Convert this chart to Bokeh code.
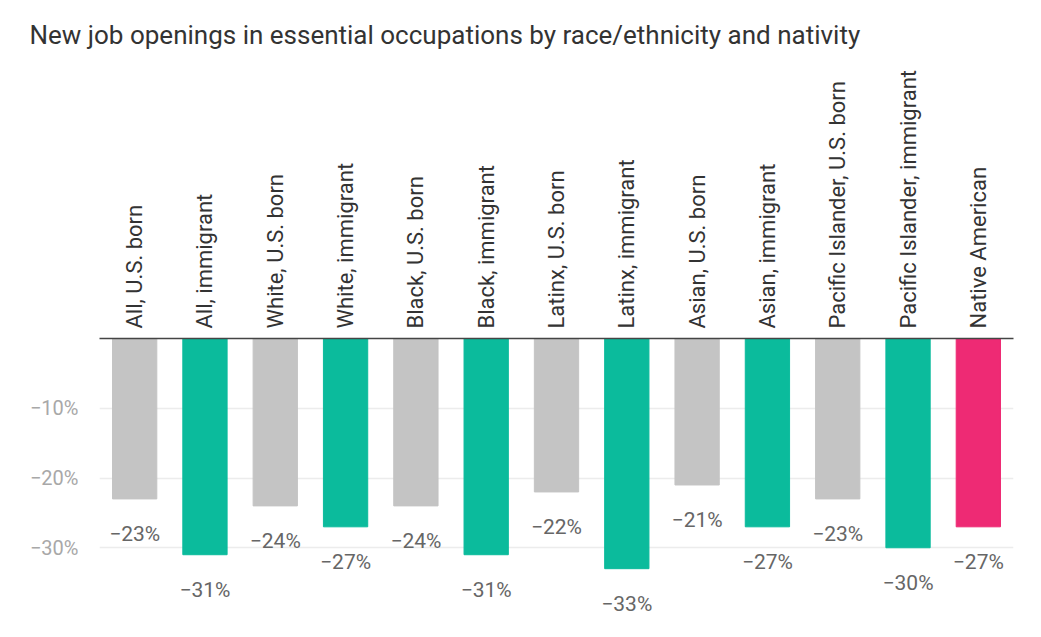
from bokeh.plotting import figure
from bokeh.models import Range1d, FixedTicker, ColumnDataSource, LinearAxis, CategoricalAxis, Title
from bokeh.embed import file_html
from bokeh.resources import INLINE
from bokeh.core.properties import value

categories = ["All, U.S. born", "All, immigrant", "White, U.S. born", "White, immigrant",
              "Black, U.S. born", "Black, immigrant", "Latinx, U.S. born", "Latinx, immigrant",
              "Asian, U.S. born", "Asian, immigrant", "Pacific Islander, U.S. born",
              "Pacific Islander, immigrant", "Native American"]
values = [-23, -31, -24, -27, -24, -31, -22, -33, -21, -27, -23, -30, -27]
groups = ["us", "imm", "us", "imm", "us", "imm", "us", "imm", "us", "imm", "us", "imm", "native"]
y_ticks = [-10, -20, -30]
title_text = "New job openings in essential occupations by race/ethnicity and nativity"

palette = {"us": "#c4c4c4", "imm": "#0bbb9c", "native": "#ee2a74"}
FONT = "Roboto"

src = ColumnDataSource(dict(
    cat=categories,
    val=values,
    color=[palette[g] for g in groups],
    label=["\u2212%d%%" % abs(v) for v in values],
))

p = figure(width=1025, height=621, x_range=categories, y_range=Range1d(-40, 0),
           output_backend="svg", toolbar_location=None, x_axis_location=None,
           y_axis_location=None,
           min_border_left=99, min_border_right=12, min_border_top=337, min_border_bottom=4)
p.outline_line_color = None
p.background_fill_color = "white"
p.border_fill_color = "white"

p.title = Title(text=title_text, text_font=FONT, text_font_size="26px",
                text_font_style="normal", text_color="#333333",
                align="left", offset=-70, standoff=34)

p.vbar(x="cat", top=0, bottom="val", width=0.63, color="color", source=src)

p.text(x="cat", y="val", text="label", source=src, text_align="center",
       text_baseline="middle", y_offset=35, text_font=value(FONT),
       text_font_size="21px", text_color="#666666")

xaxis = CategoricalAxis()
xaxis.major_label_orientation = "vertical"
xaxis.major_label_text_font = FONT
xaxis.major_label_text_font_size = "22px"
xaxis.major_label_text_color = "#333333"
xaxis.major_tick_line_color = None
xaxis.minor_tick_line_color = None
xaxis.axis_line_color = "#444444"
xaxis.axis_line_width = 1.5
xaxis.major_label_standoff = 4
p.add_layout(xaxis, "above")

yaxis = LinearAxis(ticker=FixedTicker(ticks=y_ticks))
yaxis.major_label_overrides = {t: "\u2212%d%%" % abs(t) for t in y_ticks}
yaxis.major_label_text_font = FONT
yaxis.major_label_text_font_size = "20px"
yaxis.major_label_text_color = "#a8a8a8"
yaxis.axis_line_color = None
yaxis.major_tick_line_color = None
yaxis.minor_tick_line_color = None
yaxis.major_label_standoff = 15
p.add_layout(yaxis, "left")

p.xgrid.grid_line_color = None
p.ygrid.ticker = FixedTicker(ticks=y_ticks)
p.ygrid.grid_line_color = "#ececec"
p.ygrid.grid_line_width = 1.5

open("out.html", "w").write(file_html(p, INLINE))
